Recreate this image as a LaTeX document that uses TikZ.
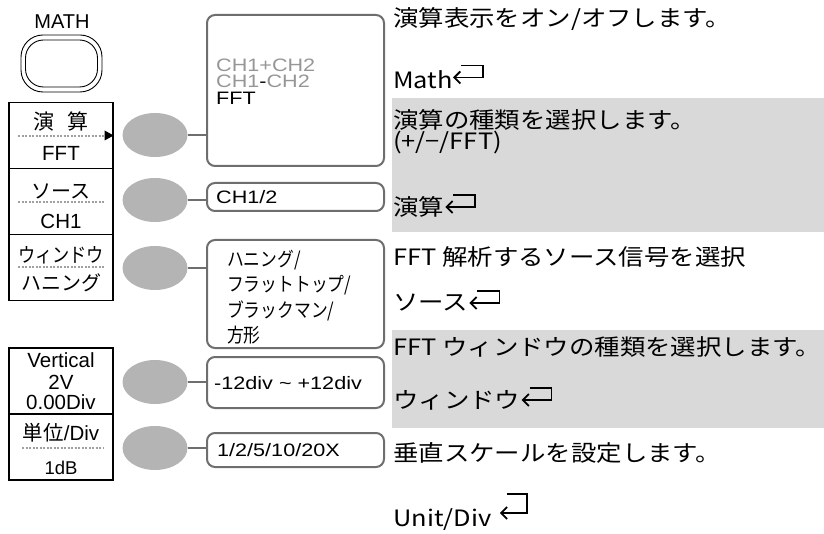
\documentclass[tikz,border=0pt]{standalone}
\usepackage{fontspec}
\setmainfont{Liberation Sans}
\newfontfamily\optfont{Liberation Sans}[FakeStretch=1.2]
\newfontfamily\jpfont{Noto Sans CJK JP}[FakeStretch=1.13]
\newfontfamily\jpkey{Noto Sans CJK JP}
\newfontfamily\jpnarrow{Noto Sans CJK JP}[FakeStretch=0.86]
\usetikzlibrary{arrows.meta,shapes.geometric}
\definecolor{knobgrey}{RGB}{180,180,180}
\definecolor{wiregrey}{RGB}{110,110,110}
\definecolor{bandgrey}{RGB}{217,217,217}
\definecolor{dimtext}{RGB}{150,150,150}
\definecolor{sepgrey}{RGB}{160,160,160}
\newcommand{\fsz}[2]{\fontsize{#1}{#2}\selectfont}

\begin{document}
\begin{tikzpicture}[x=1pt,y=-1pt,
  softkey/.style={draw=black,line width=1.2pt,minimum width=104pt,minimum height=66pt,inner sep=0pt},
  knob/.style={ellipse,fill=knobgrey,minimum width=65pt,minimum height=44pt,inner sep=0pt},
  optbox/.style={draw=wiregrey,line width=2pt,rounded corners=8pt,minimum width=177pt,inner sep=0pt},
  wire/.style={wiregrey,line width=2.4pt},
  keysep/.style={sepgrey,line width=1.5pt,dash pattern=on 2pt off 1.5pt},
  keytxt/.style={inner sep=0pt,font=\fsz{20.5}{20.5}},
  keyjp/.style={inner sep=0pt,font=\jpkey\fsz{20}{20}},
  opttxt/.style={anchor=west,inner sep=0pt,font=\optfont\fsz{18}{18}},
  desc/.style={anchor=west,inner sep=0pt,font=\jpfont\fsz{22.5}{22.5}},
  retmark/.pic={\draw[line width=1.8pt,-{Straight Barb[length=6pt,width=12pt]}]
    (8,-12) -- (30,-12) -- (30,0) -- (0,0);}]
\useasboundingbox (0,0) rectangle (824,534);

% highlighted rows
\fill[bandgrey] (392,98) rectangle (824,232);
\fill[bandgrey] (392,330) rectangle (824,428);

% MATH key
\node[font=\fsz{20}{20},inner sep=0pt] (mathlbl) at (62,22) {MATH};
\node[draw,line width=0.9pt,rounded corners=22pt,minimum width=81pt,minimum height=57pt] (mathbtn) at (61.5,63.5) {};
\node[draw,line width=0.9pt,rounded corners=18pt,minimum width=72pt,minimum height=47pt] (mathin) at (mathbtn) {};

% soft keys
\node[softkey] (k1) at (61,135.5) {};
\node[softkey] (k2) at (61,201.5) {};
\node[softkey] (k3) at (61,267.5) {};
\node[softkey] (k4) at (61,381) {};
\node[softkey] (k5) at (61,447) {};

\node[keyjp,font=\jpkey\fsz{21}{21}] (k1a) at (61,121.5) {演\hspace{14pt}算};
\draw[keysep] (18,136) -- (104,136);
\fill (k1.east) -- ++(-9,-5) -- ++(0,10) -- cycle;
\node[keytxt] (k1b) at (61,153.5) {FFT};

\node[keyjp] (k2a) at (61,191) {ソース};
\draw[keysep] (18,202) -- (105,202);
\node[keytxt] (k2b) at (61,221) {CH1};

\node[keyjp,font=\jpnarrow\fsz{20}{20}] (k3a) at (61,255) {ウィンドウ};
\draw[keysep] (18,267) -- (105,267);
\node[keyjp] (k3b) at (61,283) {ハニング};

\node[keytxt] (k4a) at (61,360) {Vertical};
\node[keytxt] (k4b) at (61,382) {2V};
\node[keytxt] (k4c) at (61,402) {0.00Div};

\node[keytxt] (k5a) at (61,433) {{\jpkey 単位}/Div};
\draw[keysep] (22,448) -- (104,448);
\node[keytxt,font=\fsz{18.5}{18.5}] (k5b) at (61,468) {1dB};

% knobs
\node[knob] (e1) at (155,135) {};
\node[knob] (e2) at (155,200) {};
\node[knob] (e3) at (155,268) {};
\node[knob] (e4) at (155,382) {};
\node[knob] (e5) at (155,448) {};

% option boxes
\node[optbox,minimum height=151pt] (oA) at (295.5,90.5) {};
\node[optbox,minimum height=28pt] (oB) at (295.5,197) {};
\node[optbox,minimum height=108pt] (oC) at (295.5,294) {};
\node[optbox,minimum height=51pt] (oD) at (295.5,382.5) {};
\node[optbox,minimum height=34pt] (oE) at (295.5,450) {};

\draw[wire] (e1.east) -- (e1.east -| oA.west);
\draw[wire] (e2.east) -- (e2.east -| oB.west);
\draw[wire] (e3.east) -- (e3.east -| oC.west);
\draw[wire] (e4.east) -- (e4.east -| oD.west);
\draw[wire] (e5.east) -- (e5.east -| oE.west);

\node[anchor=north west,inner sep=0pt,align=left,font=\optfont\fsz{18}{16.5}] (tA) at (216,58.5)
  {\textcolor{dimtext}{CH1+CH2}\\\textcolor{dimtext}{CH1}-\textcolor{dimtext}{CH2}\\FFT};
\node[opttxt] (tB) at (216,197) {CH1/2};
\node[anchor=north west,inner sep=0pt,align=left,font=\jpnarrow\fsz{19.5}{25.5}] (tC) at (227,249.5)
  {ハニング/\\フラットトップ/\\ブラックマン/\\方形};
\node[opttxt] (tD) at (214,383) {-12div \textasciitilde{} +12div};
\node[opttxt] (tE) at (217,450) {1/2/5/10/20X};

% descriptions
\node[desc] (d1) at (393,19) {演算表示をオン/オフします。};
\node[desc] (d2) at (393,79.5) {Math};
\pic[yshift=2pt] at ([xshift=0pt]d2.east) {retmark};
\node[desc] (d3) at (393,120) {演算の種類を選択します。};
\node[desc] (d4) at (393,143) {(+/−/FFT)};
\node[desc] (d5) at (393,207) {演算};
\pic at ([xshift=1pt]d5.east) {retmark};
\node[desc] (d6) at (393,257) {FFT 解析するソース信号を選択};
\node[desc] (d7) at (393,303) {ソース};
\pic at ([xshift=1pt]d7.east) {retmark};
\node[desc] (d8) at (393,347) {FFT ウィンドウの種類を選択します。};
\node[desc] (d9) at (393,400) {ウィンドウ};
\pic at ([xshift=1pt]d9.east) {retmark};
\node[desc] (d10) at (393,453) {垂直スケールを設定します。};
\node[desc] (d11) at (393,520) {Unit/Div};
\pic[yshift=7pt,yscale=1.6,xscale=0.9] at ([xshift=8pt]d11.east) {retmark};
\end{tikzpicture}
\end{document}
